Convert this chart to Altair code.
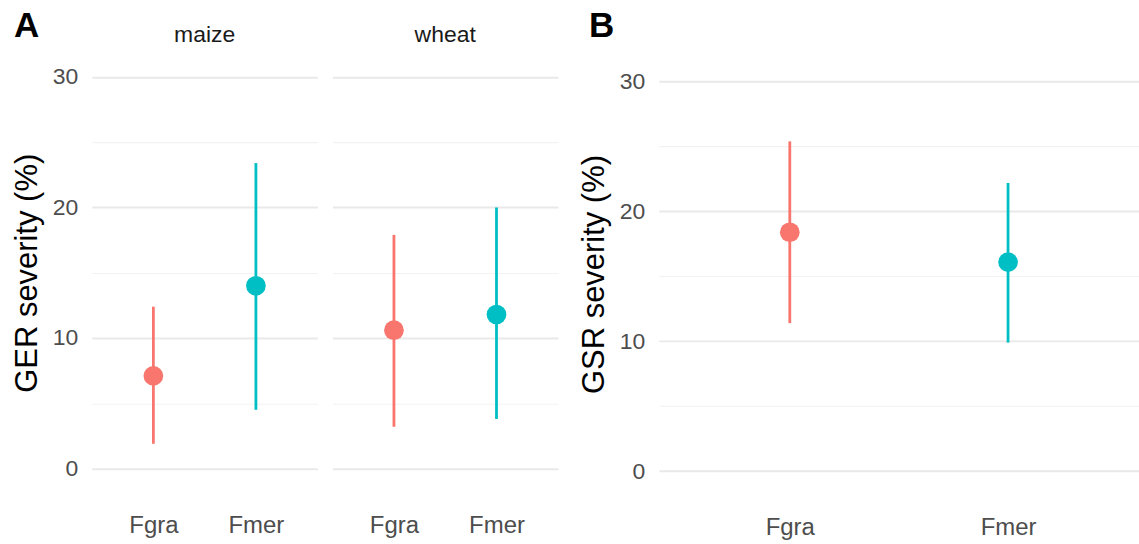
import altair as alt
import pandas as pd

# Species order and their colours
species = ["Fgra", "Fmer"]
palette = ["#F8766D", "#00BFC4"]

# GER severity (%) by crop: mean with interval limits
ger_crop = ["maize", "maize", "wheat", "wheat"]
ger_species = ["Fgra", "Fmer", "Fgra", "Fmer"]
ger_mean = [7.1, 14.0, 10.6, 11.8]
ger_low = [1.9, 4.5, 3.2, 3.8]
ger_high = [12.4, 23.4, 17.9, 20.0]

# GSR severity (%): mean with interval limits
gsr_species = ["Fgra", "Fmer"]
gsr_mean = [18.4, 16.1]
gsr_low = [11.4, 9.9]
gsr_high = [25.4, 22.2]

y_ticks = [0, 5, 10, 15, 20, 25, 30]
FONT = "Liberation Sans"

ger = pd.DataFrame({"crop": ger_crop, "species": ger_species,
                    "mean": ger_mean, "low": ger_low, "high": ger_high})
gsr = pd.DataFrame({"species": gsr_species, "mean": gsr_mean,
                    "low": gsr_low, "high": gsr_high})


def label_layer(text, x, y, size, bold=False, align="left", color="#000000"):
    return alt.Chart(pd.DataFrame({"t": [text]})).mark_text(
        fontSize=size, fontWeight="bold" if bold else "normal", font=FONT,
        align=align, baseline="alphabetic", color=color
    ).encode(text="t:N", x=alt.value(x), y=alt.value(y))


def panel(df, width, height, y_domain, ytitle=None, strip=None, letter=None,
          letter_dx=0):
    show_labels = ytitle is not None
    x = alt.X("species:N",
              scale=alt.Scale(type="point", padding=0.6, domain=species),
              axis=alt.Axis(title=None, labelAngle=0, labelFontSize=24,
                            labelColor="#4d4d4d", labelFont=FONT,
                            ticks=False, tickSize=0, domain=False, grid=False,
                            labelPadding=25))
    axis_opts = dict(
        values=y_ticks,
        labelExpr="datum.value % 10 === 0 ? datum.label : ''",
        labels=show_labels,
        labelFontSize=23, labelColor="#4d4d4d", labelFont=FONT,
        labelPadding=14,
        ticks=False, domain=False,
        gridColor={"condition": {"test": "datum.value % 10 === 0",
                                 "value": "#e9e9e9"}, "value": "#f2f2f2"},
        gridWidth={"condition": {"test": "datum.value % 10 === 0",
                                 "value": 2.0}, "value": 1.2},
        titleFontSize=31, titleFontWeight="normal", titleColor="#000000",
        titleFont=FONT, titlePadding=9,
    )
    if ytitle:
        y_axis = alt.Axis(title=ytitle, **axis_opts)
    else:
        y_axis = alt.Axis(title=None, minExtent=0, **axis_opts)
    y_scale = alt.Scale(domain=y_domain, nice=False, zero=False)
    color = alt.Color("species:N", scale=alt.Scale(domain=species, range=palette),
                      legend=None)
    base = alt.Chart(df)
    bars = base.mark_rule(strokeWidth=2.8).encode(
        x=x, y=alt.Y("low:Q", scale=y_scale, axis=y_axis), y2="high:Q",
        color=color)
    pts = base.mark_circle(size=390, opacity=1).encode(
        x=x, y=alt.Y("mean:Q", scale=y_scale, axis=y_axis), color=color)
    layers = [bars, pts]
    if strip:
        layers.append(label_layer(strip, width / 2, -15, 23, align="center",
                                  color="#1a1a1a"))
    if letter:
        layers.append(label_layer(letter, letter_dx, -20.5, 35, bold=True))
    return alt.layer(*layers).properties(width=width, height=height)


maize = panel(ger[ger.crop == "maize"], 226, 431.5, [-1.5, 31.5],
              ytitle="GER severity (%)", strip="maize", letter="A",
              letter_dx=-78)
wheat = panel(ger[ger.crop == "wheat"], 226, 431.5, [-1.5, 31.5],
              strip="wheat")
gsr_panel = panel(gsr, 481, 434, [-1.5, 31.87], ytitle="GSR severity (%)",
                  letter="B", letter_dx=-70)

left = alt.hconcat(maize, wheat, spacing=15)
chart = alt.hconcat(left, gsr_panel, spacing=20).properties(
    padding={"left": 11, "top": 8, "right": 0, "bottom": 0},
    background="white",
).configure_view(stroke=None)

chart.save("out.html", embed_options={"renderer": "svg", "actions": False})
